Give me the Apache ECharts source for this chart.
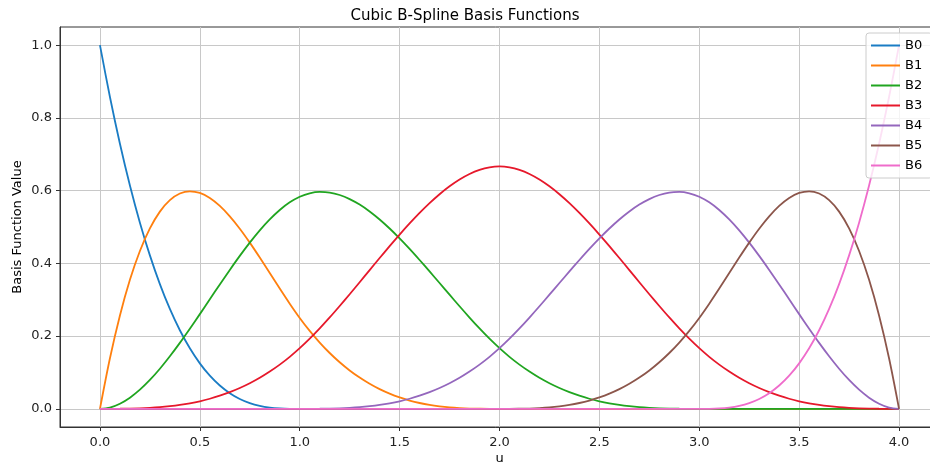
<!DOCTYPE html>
<html>
<head>
<meta charset="utf-8">
<script src="https://cdn.jsdelivr.net/npm/echarts@6/dist/echarts.min.js"></script>
<style>
  html, body { margin: 0; padding: 0; background: #fff; }
  #chart { width: 930px; height: 466px; }
</style>
</head>
<body>
<div id="chart"></div>
<script>
// parameter u, sampled every 0.05 on [0, 4]
const uValues = [
  0.0, 0.05, 0.1, 0.15, 0.2, 0.25, 0.3, 0.35, 0.4, 0.45,
  0.5, 0.55, 0.6, 0.65, 0.7, 0.75, 0.8, 0.85, 0.9, 0.95,
  1.0, 1.05, 1.1, 1.15, 1.2, 1.25, 1.3, 1.35, 1.4, 1.45,
  1.5, 1.55, 1.6, 1.65, 1.7, 1.75, 1.8, 1.85, 1.9, 1.95,
  2.0, 2.05, 2.1, 2.15, 2.2, 2.25, 2.3, 2.35, 2.4, 2.45,
  2.5, 2.55, 2.6, 2.65, 2.7, 2.75, 2.8, 2.85, 2.9, 2.95,
  3.0, 3.05, 3.1, 3.15, 3.2, 3.25, 3.3, 3.35, 3.4, 3.45,
  3.5, 3.55, 3.6, 3.65, 3.7, 3.75, 3.8, 3.85, 3.9, 3.95,
  4.0,
]

const b0 = [
  1, 0.8574, 0.729, 0.6141, 0.512, 0.4219, 0.343, 0.2746, 0.216, 0.1664,
  0.125, 0.0911, 0.064, 0.0429, 0.027, 0.0156, 0.008, 0.0034, 0.001, 0.0001,
  0, 0, 0, 0, 0, 0, 0, 0, 0, 0,
  0, 0, 0, 0, 0, 0, 0, 0, 0, 0,
  0, 0, 0, 0, 0, 0, 0, 0, 0, 0,
  0, 0, 0, 0, 0, 0, 0, 0, 0, 0,
  0, 0, 0, 0, 0, 0, 0, 0, 0, 0,
  0, 0, 0, 0, 0, 0, 0, 0, 0, 0,
  0,
]
const b1 = [
  0, 0.139, 0.2568, 0.3547, 0.434, 0.4961, 0.5423, 0.5738, 0.592, 0.5982,
  0.5938, 0.5799, 0.558, 0.5293, 0.4953, 0.457, 0.416, 0.3735, 0.3308, 0.2892,
  0.25, 0.2143, 0.1823, 0.1535, 0.128, 0.1055, 0.0858, 0.0687, 0.054, 0.0416,
  0.0313, 0.0228, 0.016, 0.0107, 0.0068, 0.0039, 0.002, 0.0008, 0.0003, 0,
  0, 0, 0, 0, 0, 0, 0, 0, 0, 0,
  0, 0, 0, 0, 0, 0, 0, 0, 0, 0,
  0, 0, 0, 0, 0, 0, 0, 0, 0, 0,
  0, 0, 0, 0, 0, 0, 0, 0, 0, 0,
  0,
]
const b2 = [
  0, 0.0036, 0.0141, 0.0307, 0.0527, 0.0794, 0.1103, 0.1445, 0.1813, 0.2202,
  0.2604, 0.3012, 0.342, 0.382, 0.4206, 0.457, 0.4907, 0.5208, 0.5468, 0.5678,
  0.5833, 0.5928, 0.5964, 0.5947, 0.588, 0.5768, 0.5616, 0.5427, 0.5207, 0.4959,
  0.4688, 0.4398, 0.4093, 0.3779, 0.3459, 0.3138, 0.282, 0.251, 0.2211, 0.1928,
  0.1667, 0.1429, 0.1215, 0.1024, 0.0853, 0.0703, 0.0572, 0.0458, 0.036, 0.0277,
  0.0208, 0.0152, 0.0107, 0.0072, 0.0045, 0.0026, 0.0013, 0.0006, 0.0002, 0,
  0, 0, 0, 0, 0, 0, 0, 0, 0, 0,
  0, 0, 0, 0, 0, 0, 0, 0, 0, 0,
  0,
]
const b3 = [
  0, 0, 0.0002, 0.0006, 0.0013, 0.0026, 0.0045, 0.0072, 0.0107, 0.0152,
  0.0208, 0.0277, 0.036, 0.0458, 0.0572, 0.0703, 0.0853, 0.1024, 0.1215, 0.1429,
  0.1667, 0.1929, 0.2212, 0.2512, 0.2827, 0.3151, 0.3482, 0.3815, 0.4147, 0.4474,
  0.4792, 0.5097, 0.5387, 0.5656, 0.5902, 0.612, 0.6307, 0.6459, 0.6572, 0.6642,
  0.6667, 0.6642, 0.6572, 0.6459, 0.6307, 0.612, 0.5902, 0.5656, 0.5387, 0.5097,
  0.4792, 0.4474, 0.4147, 0.3815, 0.3482, 0.3151, 0.2827, 0.2512, 0.2212, 0.1929,
  0.1667, 0.1429, 0.1215, 0.1024, 0.0853, 0.0703, 0.0572, 0.0458, 0.036, 0.0277,
  0.0208, 0.0152, 0.0107, 0.0072, 0.0045, 0.0026, 0.0013, 0.0006, 0.0002, 0,
  0,
]
const b4 = [
  0, 0, 0, 0, 0, 0, 0, 0, 0, 0,
  0, 0, 0, 0, 0, 0, 0, 0, 0, 0,
  0, 0, 0.0002, 0.0006, 0.0013, 0.0026, 0.0045, 0.0072, 0.0107, 0.0152,
  0.0208, 0.0277, 0.036, 0.0458, 0.0572, 0.0703, 0.0853, 0.1024, 0.1215, 0.1429,
  0.1667, 0.1928, 0.2211, 0.251, 0.282, 0.3138, 0.3459, 0.3779, 0.4093, 0.4398,
  0.4688, 0.4959, 0.5207, 0.5427, 0.5616, 0.5768, 0.588, 0.5947, 0.5964, 0.5928,
  0.5833, 0.5678, 0.5468, 0.5208, 0.4907, 0.457, 0.4206, 0.382, 0.342, 0.3012,
  0.2604, 0.2202, 0.1813, 0.1445, 0.1103, 0.0794, 0.0527, 0.0307, 0.0141, 0.0036,
  0,
]
const b5 = [
  0, 0, 0, 0, 0, 0, 0, 0, 0, 0,
  0, 0, 0, 0, 0, 0, 0, 0, 0, 0,
  0, 0, 0, 0, 0, 0, 0, 0, 0, 0,
  0, 0, 0, 0, 0, 0, 0, 0, 0, 0,
  0, 0, 0.0003, 0.0008, 0.002, 0.0039, 0.0068, 0.0107, 0.016, 0.0228,
  0.0313, 0.0416, 0.054, 0.0687, 0.0858, 0.1055, 0.128, 0.1535, 0.1823, 0.2143,
  0.25, 0.2892, 0.3308, 0.3735, 0.416, 0.457, 0.4953, 0.5293, 0.558, 0.5799,
  0.5938, 0.5982, 0.592, 0.5738, 0.5423, 0.4961, 0.434, 0.3547, 0.2568, 0.139,
  0,
]
const b6 = [
  0, 0, 0, 0, 0, 0, 0, 0, 0, 0,
  0, 0, 0, 0, 0, 0, 0, 0, 0, 0,
  0, 0, 0, 0, 0, 0, 0, 0, 0, 0,
  0, 0, 0, 0, 0, 0, 0, 0, 0, 0,
  0, 0, 0, 0, 0, 0, 0, 0, 0, 0,
  0, 0, 0, 0, 0, 0, 0, 0, 0, 0,
  0, 0.0001, 0.001, 0.0034, 0.008, 0.0156, 0.027, 0.0429, 0.064, 0.0911,
  0.125, 0.1664, 0.216, 0.2746, 0.343, 0.4219, 0.512, 0.6141, 0.729, 0.8574,
  1,
]

const seriesNames = ['B0', 'B1', 'B2', 'B3', 'B4', 'B5', 'B6']
const seriesValues = [b0, b1, b2, b3, b4, b5, b6]
const colors = ['#1a7cc4', '#ff7f0e', '#20a520', '#e6182b', '#9467bd', '#8c564b', '#ef6ccb']

const xTicks = [0, 0.5, 1, 1.5, 2, 2.5, 3, 3.5, 4]
const yTicks = [0, 0.2, 0.4, 0.6, 0.8, 1.0]

const font = 'DejaVu Sans'
const myChart = echarts.init(document.getElementById('chart'))

const option = {
  animation: false,
  color: colors,
  textStyle: { fontFamily: font },
  title: {
    text: 'Cubic B-Spline Basis Functions',
    left: 'center',
    top: 4,
    textStyle: { fontFamily: font, fontSize: 15, fontWeight: 'normal', color: '#000' },
  },
  legend: {
    orient: 'vertical',
    left: 866,
    top: 33,
    icon: 'rect',
    itemWidth: 29,
    itemHeight: 2,
    itemGap: 5,
    padding: [5, 10, 5, 5],
    backgroundColor: 'rgba(255,255,255,0.8)',
    borderColor: '#cccccc',
    borderWidth: 1,
    borderRadius: 3,
    textStyle: { fontFamily: font, fontSize: 13, color: '#000', lineHeight: 15 },
    data: seriesNames,
  },
  grid: {
    left: 60,
    top: 27,
    width: 879,
    height: 400,
    outerBoundsMode: 'none',
    containLabel: false,
    show: true,
    borderColor: '#333',
    borderWidth: 1,
  },
  xAxis: {
    type: 'value',
    min: -0.2,
    max: 4.2,
    name: 'u',
    nameLocation: 'middle',
    nameGap: 25,
    nameMoveOverlap: false,
    nameTextStyle: { fontFamily: font, fontSize: 13, color: '#000' },
    axisLine: { onZero: false, lineStyle: { color: '#333', width: 1 } },
    axisTick: { customValues: xTicks, length: 4, lineStyle: { color: '#333' } },
    axisLabel: {
      customValues: xTicks,
      fontSize: 13,
      color: '#222',
      margin: 9,
      formatter: function (value) {
        return value.toFixed(1)
      },
    },
    splitLine: { show: true, lineStyle: { color: '#c8c8c8', width: 1 } },
  },
  yAxis: {
    type: 'value',
    min: -0.05,
    max: 1.05,
    name: 'Basis Function Value',
    nameLocation: 'middle',
    nameGap: 36,
    nameMoveOverlap: false,
    nameTextStyle: { fontFamily: font, fontSize: 13, color: '#000' },
    axisLine: { show: true, onZero: false, lineStyle: { color: '#333', width: 1 } },
    axisTick: { show: true, customValues: yTicks, length: 4, lineStyle: { color: '#333' } },
    axisLabel: {
      customValues: yTicks,
      fontSize: 13,
      color: '#222',
      margin: 8,
      formatter: function (value) {
        return value.toFixed(1)
      },
    },
    splitLine: { show: true, lineStyle: { color: '#c8c8c8', width: 1 } },
  },
  series: seriesValues.map((values, k) => ({
    name: seriesNames[k],
    type: 'line',
    smooth: 0.3,
    showSymbol: false,
    lineStyle: { width: 1.8, color: colors[k] },
    data: uValues.map((u, i) => [u, values[i]]),
  })),
}

option && myChart.setOption(option)
</script>
</body>
</html>
